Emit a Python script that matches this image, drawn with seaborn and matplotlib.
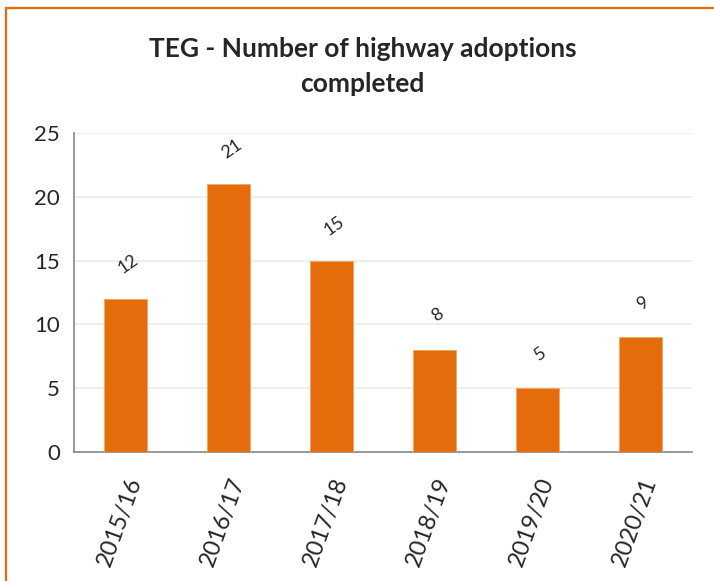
import pandas as pd
import matplotlib.pyplot as plt
import matplotlib.patches as patches
import seaborn as sns

years = ['2015/16', '2016/17', '2017/18', '2018/19', '2019/20', '2020/21']
adoptions = [12, 21, 15, 8, 5, 9]

df = pd.DataFrame({'year': years, 'count': adoptions})

sns.set_style('white')
plt.rcParams['font.family'] = ['Lato', 'DejaVu Sans']

orange = '#E46C0A'

fig = plt.figure(figsize=(7.14, 5.81), dpi=100)
ax = fig.add_axes([0.1036, 0.222, 0.8655, 0.549])

sns.barplot(data=df, x='year', y='count', color=orange, width=0.41,
            saturation=1, edgecolor='#F4A460', linewidth=0.6, ax=ax, zorder=3)

# rotated value labels above each bar
for i, v in enumerate(adoptions):
    ax.annotate(str(v), (i + 0.03, v), xytext=(0, 25), textcoords='offset points',
                ha='center', va='center', rotation=35, fontsize=13)

ax.set_ylim(0, 25)
ax.set_xlim(-0.5, 5.5)
ax.set_yticks(range(0, 26, 5))
ax.yaxis.grid(True, color='#EBEBEB', linewidth=1.2, zorder=0)
ax.set_axisbelow(True)

# tick marks between categories, labels at the centres
ax.set_xticks([i - 0.5 for i in range(7)], minor=False)
ax.set_xticklabels([])
ax.set_xticks(range(6), minor=True)
ax.set_xticklabels(years, minor=True, rotation=70, ha='right',
                   rotation_mode='anchor', fontsize=17)
ax.tick_params(axis='x', which='major', direction='out', length=7,
               color='#888888', width=1.2)
ax.tick_params(axis='x', which='minor', length=0, pad=16)
ax.tick_params(axis='y', direction='out', length=6, color='#888888',
               width=1.2, labelsize=16, pad=4)

for s in ['top', 'right']:
    ax.spines[s].set_visible(False)
for s in ['left', 'bottom']:
    ax.spines[s].set_color('#888888')
    ax.spines[s].set_linewidth(1.2)

ax.set_xlabel('')
ax.set_ylabel('')

fig.text(0.508, 0.916, 'TEG - Number of highway adoptions', ha='center',
         va='center', fontsize=19, fontweight='bold')
fig.text(0.508, 0.855, 'completed', ha='center', va='center', fontsize=19,
         fontweight='bold')

border = patches.Rectangle((6 / 714, -0.01), 1.0, 1 - 8 / 581 + 0.01,
                           transform=fig.transFigure, fill=False,
                           edgecolor=orange, linewidth=1.6)
fig.patches.append(border)

fig.savefig('out.png', dpi=100)
